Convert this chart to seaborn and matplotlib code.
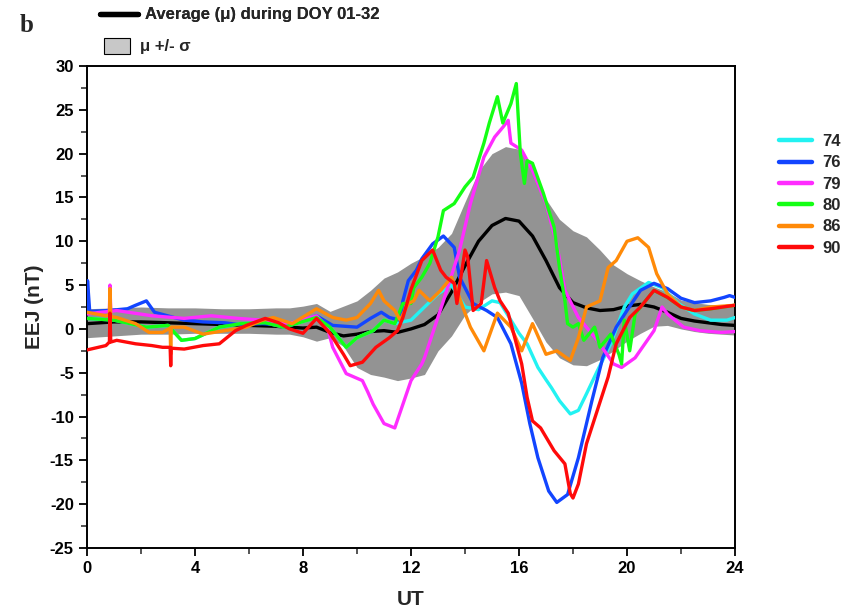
import numpy as np
import pandas as pd
import seaborn as sns
import matplotlib
matplotlib.use("Agg")
import matplotlib.pyplot as plt
from matplotlib.lines import Line2D
from matplotlib.patches import Patch
from matplotlib.ticker import MultipleLocator

# ---------------- data ----------------
band_ut = [0, 1, 2, 3, 4, 5, 6, 7, 7.5, 8, 8.5, 9, 9.5, 10, 10.5, 11, 11.5, 12, 12.5, 13,
           13.5, 14, 14.5, 15, 15.5, 16, 16.5, 17, 17.5, 18, 18.5, 19, 19.5, 20, 20.5, 21,
           21.5, 22, 22.5, 23, 23.5, 24]
band_upper = [2.3, 2.4, 2.5, 2.4, 2.4, 2.3, 2.3, 2.4, 2.4, 2.6, 2.9, 2.0, 2.6, 3.2, 4.4, 5.8,
              6.5, 7.5, 8.3, 9.3, 10.9, 14.5, 18.0, 20.0, 20.8, 20.5, 18.5, 14.8, 12.5, 11.2,
              10.5, 9.0, 7.3, 6.3, 5.5, 4.8, 4.2, 3.3, 3.0, 2.8, 2.7, 2.6]
band_lower = [-1.0, -0.8, -0.6, -0.6, -0.5, -0.5, -0.5, -0.6, -0.6, -0.9, -1.4, -1.0, -2.0,
              -4.4, -5.2, -5.5, -5.9, -5.6, -5.2, -2.5, -0.8, 1.6, 3.0, 4.0, 4.2, 3.8, 1.2,
              -1.5, -3.3, -4.1, -4.2, -3.5, -2.5, -1.4, -0.5, 0.3, 0.4, 0.0, -0.3, -0.5, -0.6, -0.7]
mean_val = [0.6, 0.8, 0.8, 0.7, 0.6, 0.5, 0.4, 0.3, 0.2, 0.1, 0.2, -0.4, -0.8, -0.6, -0.3, -0.2,
            -0.4, 0.0, 0.5, 1.6, 4.2, 7.2, 10.0, 11.8, 12.6, 12.3, 10.6, 7.8, 4.7, 3.0, 2.4,
            2.1, 2.2, 2.6, 2.8, 2.5, 1.9, 1.2, 0.9, 0.7, 0.5, 0.4]

ut_74 = [0, 1, 2.2, 3.0, 3.5, 4.0, 4.9, 5.7, 6.6, 7.3, 8.5, 9.0, 9.6, 10.0, 10.6, 11.0, 11.4,
         12, 12.5, 13, 13.5, 14, 14.5, 15, 15.3, 15.7, 16, 16.3, 16.7, 17, 17.2, 17.5, 17.9,
         18.2, 18.5, 18.9, 19.4, 19.9, 20.2, 20.8, 21.3, 21.9, 22.5, 23.1, 23.7, 24]
eej_74 = [1.2, 1.0, 0.2, 0.4, -1.3, -1.1, 0.2, 0.6, 0.7, 0.2, 1.3, 0.2, -2.1, -1.0, -0.2, 1.0,
          0.6, 1.0, 2.5, 4.0, 5.0, 2.5, 2.2, 3.2, 3.0, 1.0, -0.5, -1.7, -4.4, -5.8, -6.7, -8.2,
          -9.7, -9.3, -7.4, -4.8, -1.7, 2.5, 4.0, 5.3, 4.7, 2.9, 1.7, 1.0, 1.0, 1.3]

ut_76 = [0, 0.02, 0.1, 0.8, 1.5, 1.8, 2.2, 2.5, 3.1, 3.6, 4.3, 5.1, 5.6, 6.5, 7.5, 8.5, 9.1, 10,
         10.5, 10.9, 11.2, 11.6, 11.7, 11.9, 12.2, 12.4, 12.8, 13.2, 13.6, 13.8, 14.3, 14.8,
         15.2, 15.7, 16.1, 16.4, 16.7, 17.1, 17.4, 17.8, 18.2, 18.7, 19.1, 19.6, 20.0, 20.5,
         21.0, 21.5, 22.0, 22.5, 23.1, 23.6, 23.8, 24]
eej_76 = [2.0, 5.5, 2.0, 2.1, 2.3, 2.7, 3.2, 1.9, 1.4, 1.0, 0.8, 0.7, 0.5, 0.6, 0.4, 1.5, 0.4,
          0.2, 1.2, 1.9, 1.3, 1.0, 3.2, 5.5, 6.7, 8.0, 9.7, 10.6, 9.3, 5.9, 2.9, 2.1, 1.3, -1.7,
          -6.2, -10.8, -14.7, -18.5, -19.8, -18.9, -14.7, -8.2, -3.3, 0.2, 2.1, 4.4, 5.2, 4.6,
          3.5, 3.0, 3.2, 3.6, 3.8, 3.6]

ut_79 = [0, 0.5, 0.83, 0.85, 0.88, 1.1, 2.4, 3.6, 4.6, 5.6, 6.5, 7.5, 8.5, 8.9, 9.1, 9.6, 10.2,
         10.4, 10.6, 11.0, 11.4, 11.7, 12.0, 12.4, 12.5, 13.2, 13.8, 14.2, 14.7, 15.1, 15.4,
         15.6, 15.7, 16.1, 16.5, 17.0, 17.4, 17.7, 18.2, 18.9, 19.5, 19.8, 20.3, 21.0, 21.3,
         21.5, 22.1, 22.7, 23.5, 24]
eej_79 = [1.7, 1.9, 2.0, 5.0, 2.0, 2.1, 1.5, 1.2, 1.5, 1.2, 1.0, 0.6, 1.5, 0.2, -2.1, -5.1, -5.9,
          -7.2, -8.6, -10.8, -11.3, -8.6, -5.9, -4.0, -3.3, 3.2, 9.0, 14.3, 19.6, 21.9, 23.0,
          23.8, 21.2, 20.4, 18.1, 14.3, 9.7, 4.4, 1.3, -1.3, -4.0, -4.4, -3.3, -0.2, 2.5, 1.7,
          0.2, -0.2, -0.4, -0.3]

ut_80 = [0, 1, 2.2, 3.0, 3.5, 4.0, 4.9, 5.7, 6.6, 7.3, 8.5, 9.0, 9.6, 10.0, 10.6, 11.0, 11.4,
         11.7, 12.0, 12.1, 12.4, 12.7, 13.0, 13.2, 13.6, 14.0, 14.3, 14.7, 14.9, 15.2, 15.4,
         15.7, 15.9, 16.05, 16.2, 16.3, 16.5, 16.9, 17.3, 17.5, 17.7, 17.8, 18.0, 18.2, 18.4,
         18.8, 19.0, 19.4, 19.7, 19.8, 19.9, 20.1, 20.3, 20.5, 21.0, 21.5, 22.0, 22.5, 23.1, 24]
eej_80 = [1.2, 1.0, 0.2, 0.4, -1.3, -1.1, 0.2, 0.6, 0.7, 0.2, 1.3, 0.2, -2.1, -1.0, -0.2, 1.0,
          0.6, 2.9, 2.9, 4.7, 5.9, 7.5, 10.5, 13.5, 14.3, 16.2, 17.3, 21.2, 23.5, 26.5, 23.5,
          25.7, 28.0, 20.0, 16.6, 19.2, 18.9, 15.5, 11.6, 7.0, 3.2, 0.6, 0.2, 0.6, -1.3, 0.2,
          -2.1, -0.6, -2.9, -4.0, 1.0, -2.5, 1.7, 2.5, 4.4, 3.6, 2.5, 2.1, 2.3, 2.7]

ut_86 = [0, 0.7, 0.83, 0.85, 0.88, 1.1, 1.8, 2.3, 2.8, 3.08, 3.1, 3.12, 3.6, 4.3, 5.1, 5.9, 6.5,
         6.9, 7.6, 8.5, 9.1, 9.6, 10.0, 10.5, 10.8, 11.0, 11.4, 11.6, 11.9, 12.1, 12.3, 12.7,
         13.1, 13.5, 13.7, 14.0, 14.2, 14.7, 15.2, 15.7, 16.1, 16.5, 17.0, 17.4, 17.9, 18.2,
         18.5, 19.0, 19.3, 19.6, 20.0, 20.4, 20.8, 21.1, 21.5, 22.0, 22.5, 23.1, 24]
eej_86 = [1.9, 1.5, 1.6, 4.6, 1.4, 1.3, 0.6, -0.4, -0.4, 0.1, -2.9, 0.2, 0.2, -0.6, -0.2, 0.2,
          1.0, 1.3, 0.6, 2.3, 1.3, 1.0, 1.3, 2.9, 4.4, 3.2, 2.1, 1.0, 2.9, 3.2, 4.4, 3.2, 4.4,
          5.9, 4.4, 1.8, 0.2, -2.5, 1.8, 0.2, -2.5, 0.6, -2.9, -2.5, -3.6, -1.0, 2.5, 3.2, 7.0,
          7.8, 10.0, 10.4, 9.3, 6.3, 4.0, 2.5, 2.1, 2.5, 2.7]

ut_90 = [0, 0.7, 0.83, 0.85, 0.88, 1.1, 1.8, 2.4, 2.8, 3.08, 3.1, 3.12, 3.6, 4.3, 4.9, 5.5, 5.9,
         6.6, 7.1, 7.5, 8.0, 8.5, 9.0, 9.5, 9.75, 10.2, 10.7, 11.2, 11.5, 11.7, 12.0, 12.4,
         12.8, 13.1, 13.3, 13.6, 13.7, 14.0, 14.1, 14.3, 14.6, 14.8, 15.1, 15.3, 15.6, 15.8,
         16.1, 16.3, 16.5, 16.8, 17.3, 17.7, 17.9, 18.0, 18.2, 18.5, 18.9, 19.3, 19.6, 20.1,
         20.5, 21.0, 21.5, 22.0, 22.5, 23.1, 24]
eej_90 = [-2.4, -1.9, -1.5, 1.8, -1.5, -1.3, -1.7, -1.9, -2.1, -2.1, -4.2, -2.2, -2.3, -1.9,
          -1.7, -0.2, 0.4, 1.2, 0.7, 0.0, -0.5, 1.2, -0.5, -2.9, -4.2, -3.8, -2.1, -1.0, -0.2,
          1.3, 4.5, 7.8, 9.0, 6.7, 5.9, 5.2, 2.9, 9.0, 8.2, 2.1, 2.9, 7.8, 4.7, 3.2, 1.8, -0.5,
          -4.0, -7.8, -10.5, -11.3, -13.9, -15.4, -18.8, -19.3, -17.7, -13.1, -9.3, -5.5, -1.7,
          1.3, 2.5, 4.4, 3.6, 2.5, 2.1, 2.3, 2.7]

doy_labels = ["74", "76", "79", "80", "86", "90"]
doy_colors = ["#22f2f2", "#1245ff", "#ff2cff", "#14ff14", "#ff8a08", "#ff0a0a"]

# ---------------- build tables ----------------
series = [(ut_74, eej_74), (ut_76, eej_76), (ut_79, eej_79),
          (ut_80, eej_80), (ut_86, eej_86), (ut_90, eej_90)]
frames = []
for lab, (u, e) in zip(doy_labels, series):
    frames.append(pd.DataFrame({"UT": u, "EEJ": e, "DOY": lab}))
df = pd.concat(frames, ignore_index=True)
mean_df = pd.DataFrame({"UT": band_ut, "EEJ": mean_val})

# ---------------- plot ----------------
sns.set_theme(style="ticks")
plt.rcParams["font.family"] = ["Liberation Sans", "DejaVu Sans"]
plt.rcParams["font.weight"] = "bold"
plt.rcParams["axes.unicode_minus"] = False

fig = plt.figure(figsize=(8.44, 6.13), dpi=100)
ax = fig.add_axes([87 / 844, 1 - 548 / 613, (735 - 87) / 844, (548 - 66) / 613])

ax.fill_between(band_ut, band_lower, band_upper, color="#939393", linewidth=0, zorder=1)
sns.lineplot(data=mean_df, x="UT", y="EEJ", color="black", linewidth=2.4, ax=ax,
             legend=False, zorder=2)
sns.lineplot(data=df, x="UT", y="EEJ", hue="DOY", hue_order=doy_labels,
             palette=dict(zip(doy_labels, doy_colors)), units="DOY", estimator=None,
             sort=False, linewidth=2.4, ax=ax, zorder=3)

ax.set_xlim(0, 24)
ax.set_ylim(-25, 30)
ax.xaxis.set_major_locator(MultipleLocator(4))
ax.xaxis.set_minor_locator(MultipleLocator(2))
ax.yaxis.set_major_locator(MultipleLocator(5))
ax.yaxis.set_minor_locator(MultipleLocator(2.5))
ax.tick_params(axis="both", which="major", direction="out", length=6, width=1.3,
               labelsize=12, colors="black", top=False, right=False)
ax.tick_params(axis="both", which="minor", direction="out", length=4, width=1.1,
               top=False, right=False)
for lab in ax.get_xticklabels() + ax.get_yticklabels():
    lab.set_fontweight("bold")
for sp in ax.spines.values():
    sp.set_visible(True)
    sp.set_linewidth(1.4)
    sp.set_color("black")

ax.set_xlabel("UT", fontsize=15, fontweight="bold", labelpad=10)
ax.set_ylabel("EEJ (nT)", fontsize=15, fontweight="bold", labelpad=4)

sns.move_legend(ax, "upper left", bbox_to_anchor=(1.045, 0.89), frameon=False, title=None,
                fontsize=12, handlelength=2.0, labelspacing=0.38, handletextpad=0.6)
leg = ax.get_legend()
for t in leg.get_texts():
    t.set_fontweight("bold")
for h in leg.get_lines():
    h.set_linewidth(3.2)
    h.set_solid_capstyle("round")

# top legends (mean line and sigma band)
leg1 = fig.legend([Line2D([0], [0], color="black", linewidth=3.8)],
                  ["Average (\u03bc) during DOY 01-32"],
                  loc="center left", bbox_to_anchor=(100 / 844, 1 - 15 / 613), frameon=False,
                  prop={"weight": "bold", "size": 12}, handlelength=2.3,
                  handletextpad=0.4, borderpad=0, borderaxespad=0)
fig.legend([Patch(facecolor="#c8c8c8", edgecolor="black", linewidth=0.8)],
           ["\u03bc +/- \u03c3"],
           loc="center left", bbox_to_anchor=(104 / 844, 1 - 46 / 613), frameon=False,
           prop={"weight": "bold", "size": 12}, handlelength=1.55, handleheight=1.15,
           handletextpad=0.6, borderpad=0, borderaxespad=0)
fig.add_artist(leg1)

fig.text(20 / 844, 1 - 25 / 613, "b", fontsize=18, fontweight="bold",
         family=["Liberation Serif", "DejaVu Serif"], va="center", ha="left")

fig.savefig("out.png", dpi=100)
